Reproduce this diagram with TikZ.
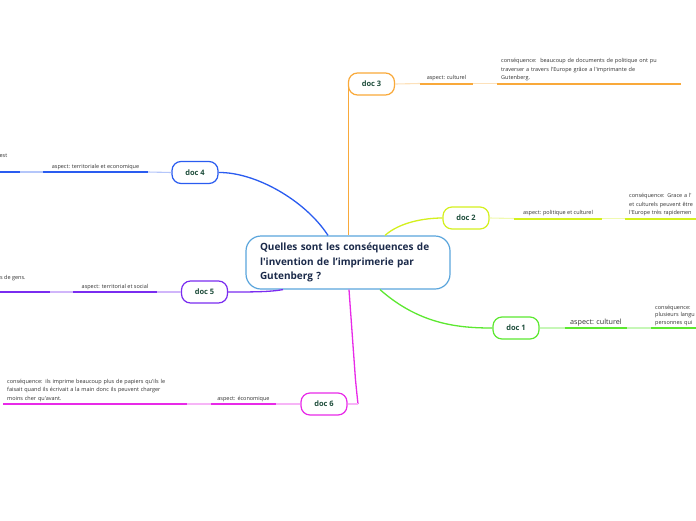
\documentclass[tikz,border=0pt]{standalone}
\usepackage{fontspec}
\setmainfont{Open Sans}[Ligatures=TeXOff]
\usetikzlibrary{positioning}
\definecolor{mapblue}{HTML}{5AA5DC}
\definecolor{docgreen}{HTML}{1E4D3B}
\definecolor{titlenavy}{HTML}{1B2A4A}
\definecolor{txtgray}{HTML}{333333}
\definecolor{brorange}{HTML}{F9A93A}
\definecolor{brlime}{HTML}{D4F01E}
\definecolor{brgreen}{HTML}{5CE830}
\definecolor{brblue}{HTML}{2A5CF0}
\definecolor{brpurple}{HTML}{7A2CF0}
\definecolor{brmagenta}{HTML}{E82AE8}

\begin{document}
\begin{tikzpicture}[x=1pt, y=-1pt,
  docbox/.style={draw=#1, line width=1.2pt, rounded corners=9pt, fill=white,
                 minimum width=46pt, minimum height=22pt, inner sep=0pt,
                 font=\fontsize{7.5}{9}\selectfont\bfseries, text=docgreen},
  branch/.style={draw=#1, line width=1.3pt},
  stem/.style={draw=#1!35, line width=1.1pt},
  underl/.style={draw=#1, line width=2pt},
  aspect/.style={anchor=south, inner sep=2pt, minimum width=#1,
                 font=\fontsize{5.5}{8.5}\selectfont, text=txtgray},
  conseq/.style={anchor=south west, text width=176pt, inner xsep=4pt, inner ysep=2pt,
                 align=left, font=\fontsize{5.5}{8.5}\selectfont, text=txtgray}
]
\useasboundingbox (0,0) rectangle (696,520);
\fill[white] (0,0) rectangle (696,520);
\clip (0,0) rectangle (696,520);

% central question
\node[draw=mapblue, line width=1.2pt, rounded corners=15pt, fill=white,
      minimum width=204pt, minimum height=53pt, text width=176pt, align=left,
      font=\fontsize{10}{14.5}\selectfont\bfseries, text=titlenavy]
      (centre) at (348,262.5) {Quelles sont les conséquences de\\l'invention de l’imprimerie par\\Gutenberg ?};

% documents
\node[docbox=brorange]  (doc3) at (371.5,84)  {doc 3};
\node[docbox=brlime]    (doc2) at (466,218)   {doc 2};
\node[docbox=brgreen]   (doc1) at (516,328)   {doc 1};
\node[docbox=brblue]    (doc4) at (195,172.5) {doc 4};
\node[docbox=brpurple]  (doc5) at (204.5,292) {doc 5};
\node[docbox=brmagenta] (doc6) at (324,404)   {doc 6};
\coordinate (elbow6) at (358,404);

% connectors to the centre
\draw[branch=brorange] ([xshift=0.6pt]doc3.west) -- ([xshift=0.6pt]doc3.west |- centre.north);
\draw[branch=brlime] ([xshift=37pt]centre.north) .. controls (400,222) and (425,218) .. (doc2.west);
\draw[branch=brgreen] ([xshift=32pt]centre.south) .. controls (420,325) and (460,328) .. (doc1.west);
\draw[branch=brblue] (doc4.east) .. controls (255,172) and (305,200) .. ([xshift=-20pt]centre.north);
\draw[branch=brpurple] ([xshift=-65pt]centre.south) .. controls (270,292) and (250,292) .. (doc5.east);
\draw[branch=brmagenta] ([xshift=1pt]centre.south) -- (355.5,380) .. controls (357,395) .. (elbow6);
\draw[stem=brmagenta] (elbow6) -- (doc6.east);

% doc 3
\node[aspect=53pt] (asp3) at (446.5,83.5) {aspect: culturel};
\node[conseq] (cons3) at (497,83.5) {conséquence:\ \ beaucoup de documents de politique ont pu\\traverser a travers l'Europe grâce a l'imprimante de\\Gutenberg.};
% doc 2
\node[aspect=88pt] (asp2) at (558,218.5) {aspect: politique et culturel};
\node[conseq] (cons2) at (625,218.5) {conséquence: Grace a l'\\et culturels peuvent être\\l'Europe très rapidemen};
% doc 1
\node[aspect=62pt, font=\fontsize{7.2}{9}\selectfont] (asp1) at (596,328) {aspect: culturel};
\node[conseq, font=\fontsize{5.5}{7.5}\selectfont] (cons1) at (651,328) {conséquence:\\plusieurs langu\\personnes qui};
% doc 6
\node[aspect=65pt] (asp6) at (243.5,404) {aspect: économique};
\node[conseq] (cons6) at (3,404) {conséquence: ils imprime beaucoup plus de papiers qu'ils le\\faisait quand ils écrivait a la main donc ils peuvent charger\\moins cher qu'avant.};
% doc 4
\node[aspect=104pt] (asp4) at (95.5,172) {aspect: territoriale et economique};
\node[anchor=base east, inner sep=0pt, font=\fontsize{5.5}{8.5}\selectfont, text=txtgray] (cons4) at (7.5,157.5) {est};
\coordinate (c4a) at (-10,172);
\coordinate (c4b) at (20,172);
% doc 5
\node[aspect=84pt] (asp5) at (115,292) {aspect: territorial et social};
\node[anchor=base west, inner sep=0pt, font=\fontsize{5.5}{8.5}\selectfont, text=txtgray] (cons5) at (0,279) {s de gens.};
\coordinate (c5a) at (-10,292);
\coordinate (c5b) at (49.5,292);

% underlines and stems
\foreach \d/\a/\c/\col in {doc3/asp3/cons3/brorange, doc2/asp2/cons2/brlime, doc1/asp1/cons1/brgreen}{
  \draw[stem=\col] (\d.east) -- (\a.south west);
  \draw[underl=\col] (\a.south west) -- (\a.south east);
  \draw[stem=\col] (\a.south east) -- (\c.south west);
  \draw[underl=\col] (\c.south west) -- (\c.south east);
}
\draw[stem=brmagenta] (doc6.west) -- (asp6.south east);
\draw[underl=brmagenta] (asp6.south west) -- (asp6.south east);
\draw[stem=brmagenta] (asp6.south west) -- (cons6.south east);
\draw[underl=brmagenta] (cons6.south west) -- (cons6.south east);
\foreach \d/\a/\s/\e/\col in {doc4/asp4/c4a/c4b/brblue, doc5/asp5/c5a/c5b/brpurple}{
  \draw[stem=\col] (\d.west) -- (\a.south east);
  \draw[underl=\col] (\a.south west) -- (\a.south east);
  \draw[stem=\col] (\a.south west) -- (\e);
  \draw[underl=\col] (\s) -- (\e);
}
\end{tikzpicture}
\end{document}
